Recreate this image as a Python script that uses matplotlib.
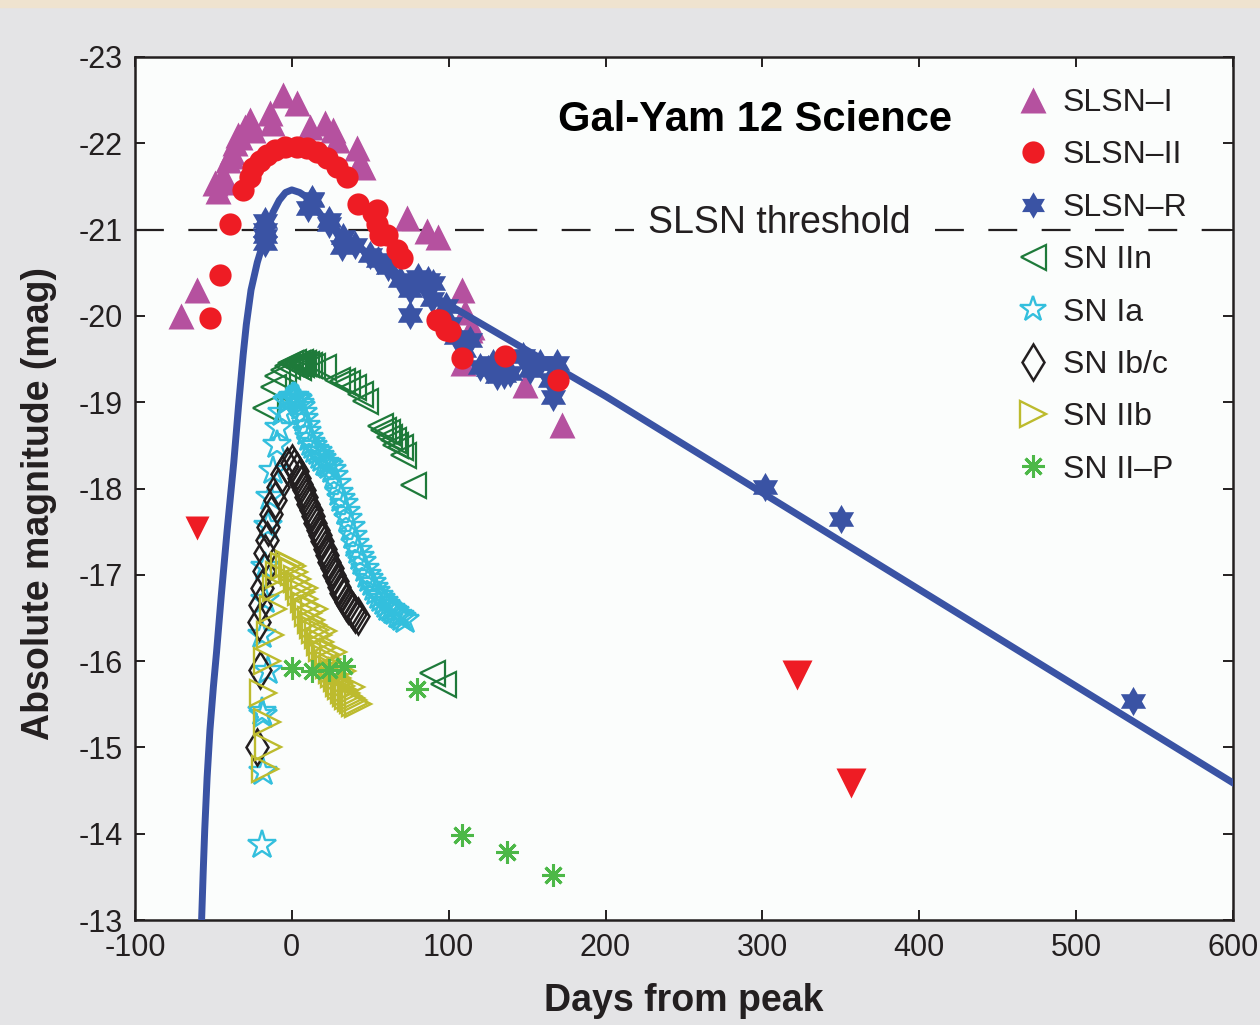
import numpy as np
import matplotlib
matplotlib.use("Agg")
import matplotlib.pyplot as plt

plt.rcParams['font.family'] = ['Liberation Sans', 'DejaVu Sans']
plt.rcParams['axes.unicode_minus'] = False

### data (days from peak, absolute magnitude)
slsn1_day = [-70.7, -60.5, -49, -47, -43.9, -44, -40.7, -39, -38.2, -36.3, -34, -33.1, -29.9,
             -26.7, -24.8, -14, -12.7, -5.7, 3.3, 11.6, 21.1, 26.2, 28.8, 41.5, 43.4, 45.4,
             73.2, 86, 93.4, 108.3, 110.4, 113.6, 114.6, 109.3, 148.6, 172]
slsn1_mag = [-20.0, -20.3, -21.54, -21.45, -21.63, -21.55, -21.81, -21.85, -21.9, -22.0, -22.1,
             -22.07, -22.19, -22.27, -22.15, -22.35, -22.24, -22.56, -22.47, -22.19, -22.24,
             -22.15, -22.04, -21.95, -21.78, -21.73, -21.13, -20.98, -20.92, -20.3, -20.05,
             -19.84, -19.87, -19.45, -19.2, -18.74]

slsn2_day = [-52.2, -45.8, -39.4, -30.9, -26.7, -24.6, -20.3, -16.1, -10.7, -4.4, 3.0, 9.4,
             15.8, 22.2, 28.6, 35, 42.4, 51.9, 54.1, 54.1, 56.2, 60.5, 66.8, 70, 92.5, 94.4,
             98.6, 100.8, 108.3, 136.1, 169.8]
slsn2_mag = [-19.97, -20.47, -21.07, -21.46, -21.61, -21.71, -21.79, -21.87, -21.92, -21.96,
             -21.96, -21.94, -21.90, -21.83, -21.73, -21.61, -21.30, -21.19, -21.23, -21.07,
             -20.94, -20.94, -20.76, -20.67, -19.95, -19.95, -19.84, -19.82, -19.51, -19.53,
             -19.26]

limit_day = [-60.5, 322, 356.5]
limit_mag = [-17.54, -15.84, -14.59]

slslr_day = [-17.1, -17.1, -17.1, -17.1, 10.6, 12.7, 12.7, 23.4, 23.4, 31.8, 32.8, 40, 49.8,
             55, 61.5, 68.9, 75.3, 75.3, 80.6, 87, 89.1, 90.2, 98.6, 100.8, 105, 110, 113.6,
             120, 125, 128, 130.6, 135, 139, 147.6, 151.8, 158, 164.6, 166.7, 168.8,
             301.7, 350.1, 536.3]
slslr_mag = [-21.1, -21.0, -20.93, -20.85, -21.25, -21.36, -21.34, -21.11, -21.07, -20.80,
             -20.92, -20.82, -20.71, -20.65, -20.57, -20.42, -20.30, -20.01, -20.45, -20.42,
             -20.20, -20.38, -20.11, -19.91, -19.75, -19.6, -19.72, -19.41, -19.38, -19.45,
             -19.30, -19.32, -19.34, -19.53, -19.37, -19.45, -19.26, -19.06, -19.45,
             -18.02, -17.65, -15.54]

model_day = [-57.5, -56.5, -55.5, -54, -52.2, -50, -48, -45, -41.3, -37, -34, -31, -29, -26,
             -22, -19, -16, -12, -8, -4, 0, 5, 10, 15, 20, 30, 45, 60, 80, 100, 150, 200,
             300, 400, 500, 600]
model_mag = [-13.0, -13.55, -14.05, -14.65, -15.2, -15.7, -16.1, -16.75, -17.5, -18.3, -18.95,
             -19.55, -19.9, -20.3, -20.62, -20.8, -21.0, -21.2, -21.34, -21.43, -21.46, -21.43,
             -21.37, -21.26, -21.13, -20.97, -20.77, -20.57, -20.33, -20.13, -19.6, -19.07,
             -17.95, -16.83, -15.71, -14.59]

iin_day = [-17.1, -11.8, -9.7, -5.4, -3, -1, 1, 2, 3, 4, 5, 6, 7, 9, 11, 13, 20, 28.6, 32,
           35, 39.2, 43.4, 46.6, 56.2, 58, 60.5, 62, 64.7, 66, 68.9, 71, 77.5, 89.1, 96.5]
iin_mag = [-18.93, -19.18, -19.30, -19.37, -19.42, -19.45, -19.47, -19.43, -19.46, -19.41,
           -19.47, -19.44, -19.45, -19.44, -19.43, -19.42, -19.41, -19.26, -19.24, -19.22,
           -19.18, -19.10, -19.01, -18.72, -18.68, -18.66, -18.6, -18.56, -18.5, -18.48,
           -18.39, -18.04, -15.86, -15.74]

ia_day = [-19.2, -18.2, -18.2, -19.2, -15, -19.2, -17.1, -17.1, -15, -13.9, -11.8, -9.7, -8,
          -6, -3, -1.5, 0, 1, 2, 3, 4, 5, 6, 7, 8, 9, 10, 11, 12, 13.5, 15, 16.5, 18, 19.5,
          21, 22.5, 24, 25.5, 27, 28.5, 30, 31.5, 33, 34.5, 36, 37.5, 39, 40.5, 42, 43.5,
          45, 46.5, 48, 49.5, 51, 52.5, 54, 55.5, 57, 58.5, 60, 61.5, 63, 64.5, 66, 67.5,
          69, 70.5, 72]
ia_mag = [-13.87, -14.72, -15.38, -15.41, -15.88, -16.30, -16.71, -17.09, -17.56, -17.9,
          -18.2, -18.5, -18.7, -18.88, -19.0, -19.03, -19.05, -19.06, -19.06, -19.04, -19.02,
          -18.98, -18.95, -18.88, -18.8, -18.72, -18.65, -18.58, -18.53, -18.49, -18.45,
          -18.42, -18.38, -18.34, -18.3, -18.28, -18.26, -18.21, -18.15, -18.05, -17.95,
          -17.88, -17.82, -17.73, -17.65, -17.55, -17.45, -17.36, -17.28, -17.21, -17.15,
          -17.07, -17.0, -16.95, -16.9, -16.85, -16.8, -16.76, -16.72, -16.68, -16.65,
          -16.62, -16.6, -16.58, -16.57, -16.54, -16.52, -16.5, -16.48]

ibc_day = [-22.5, -20.3, -21, -20, -19, -18, -17, -16, -15, -13, -11, -9, -6, -3, 0, 1.5, 3,
           4.5, 6, 7.5, 9, 10.5, 12, 13.5, 15, 16.5, 18, 19.5, 21, 22.5, 24, 25.5, 27, 28.5,
           30, 31.5, 33, 34.5, 36, 37.5, 39, 40.5, 42]
ibc_mag = [-15.01, -15.9, -16.45, -16.65, -16.85, -17.05, -17.25, -17.4, -17.55, -17.7,
           -17.87, -18.02, -18.17, -18.26, -18.3, -18.25, -18.2, -18.12, -18.05, -17.98,
           -17.9, -17.82, -17.75, -17.68, -17.6, -17.52, -17.46, -17.39, -17.3, -17.23,
           -17.15, -17.08, -17.0, -16.93, -16.86, -16.79, -16.74, -16.69, -16.65, -16.62,
           -16.58, -16.55, -16.52]

iib_day = [-17.1, -15, -16.1, -18.2, -16.1, -14, -12, -10, -8, -5, -2, 0, 1.5, 3, 4.5, 6,
           7.5, 9, 10.5, 12, 13.5, 15, 16.5, 18, 19.5, 21, 22.5, 24, 25.5, 27, 28.5, 30,
           31.5, 33, 34.5, 36, 37.5, 39, 40.5, 42, 8, 14, 20, 26, 32, 38]
iib_mag = [-14.75, -15.0, -15.3, -15.63, -16.0, -16.3, -16.6, -16.85, -17.0, -17.1, -17.12,
           -17.1, -17.03, -16.95, -16.87, -16.8, -16.72, -16.64, -16.56, -16.48, -16.42,
           -16.36, -16.3, -16.22, -16.15, -16.08, -16.02, -15.95, -15.9, -15.85, -15.8,
           -15.75, -15.71, -15.67, -15.63, -15.6, -15.57, -15.55, -15.52, -15.5, -16.85,
           -16.6, -16.35, -16.1, -15.88, -15.7]

iip_day = [0, 12.7, 23.4, 33, 79.6, 108.3, 137, 166.7]
iip_mag = [-15.92, -15.88, -15.9, -15.94, -15.68, -13.98, -13.79, -13.52]

xticks = [-100, 0, 100, 200, 300, 400, 500, 600]
yticks = [-23, -22, -21, -20, -19, -18, -17, -16, -15, -14, -13]

txt = '#231f20'
c_s1 = '#b5519f'
c_s2 = '#ee1c24'
c_sr = '#3a53a4'
c_iin = '#1e7a3a'
c_ia = '#33bfdd'
c_ibc = '#231f20'
c_iib = '#bdbb2e'
c_iip = '#4db848'

# six-pointed star (two overlapping triangles)
ang = np.deg2rad(90 + 30 * np.arange(12))
rad = np.where(np.arange(12) % 2 == 0, 1.0, 0.577)
hexagram = list(zip(rad * np.cos(ang), rad * np.sin(ang)))

fig = plt.figure(figsize=(12.6, 10.25), dpi=100, facecolor='#e4e4e6')
ax = fig.add_axes([0.1071, 0.1024, 0.8714, 0.842])
ax.set_facecolor('#fbfdfc')
fig.patches.append(plt.Rectangle((0, 0.993), 1, 0.007, transform=fig.transFigure,
                                 color='#efe3cf', zorder=0))

ax.axhline(-21, color=txt, lw=1.6, dashes=(13, 11), zorder=1)
ax.text(311, -21.08, 'SLSN threshold', fontsize=27, color=txt, ha='center', va='center',
        zorder=2, bbox=dict(facecolor='#fbfdfc', edgecolor='none', pad=10))

ax.plot(slsn1_day, slsn1_mag, '^', color=c_s1, ms=19, mec='none', label='SLSN\u2013I', zorder=3)
ax.plot(slslr_day, slslr_mag, marker=hexagram, ls='none', color=c_sr, ms=21, mec='none',
        label='SLSN\u2013R', zorder=4)
ax.plot(model_day, model_mag, '-', color=c_sr, lw=5, zorder=5)
ax.plot(slsn2_day, slsn2_mag, 'o', color=c_s2, ms=16, mec='none', label='SLSN\u2013II', zorder=6)
ax.plot(limit_day[:1], limit_mag[:1], 'v', color=c_s2, ms=17, mec='none', zorder=6)
ax.plot(limit_day[1:], limit_mag[1:], 'v', color=c_s2, ms=22, mec='none', zorder=6)

ax.plot(iin_day, iin_mag, '<', mfc='none', mec=c_iin, ms=18, mew=1.6, ls='none',
        label='SN IIn', zorder=3)
ax.plot(ia_day, ia_mag, '*', mfc='none', mec=c_ia, ms=21, mew=1.7, ls='none',
        label='SN Ia', zorder=3)
ax.plot(ibc_day, ibc_mag, 'd', mfc='none', mec=c_ibc, ms=18, mew=1.8, ls='none',
        label='SN Ib/c', zorder=3)
ax.plot(iib_day, iib_mag, '>', mfc='none', mec=c_iib, ms=19, mew=1.7, ls='none',
        label='SN IIb', zorder=3)
ax.plot(iip_day, iip_mag, marker=(8, 2, 0), ls='none', color=c_iip, mec=c_iip, ms=16, mew=2.2,
        label='SN II\u2013P', zorder=3)

ax.set_xlim(-100, 600)
ax.set_ylim(-13, -23)
ax.set_xticks(xticks)
ax.set_yticks(yticks)
ax.set_xticklabels([str(v) for v in xticks])
ax.set_yticklabels([str(v) for v in yticks])
ax.tick_params(direction='in', length=7, width=1.4, labelsize=22, colors=txt,
               top=True, right=True, pad=9)
for s in ax.spines.values():
    s.set_linewidth(1.8)
    s.set_color(txt)

ax.set_xlabel('Days from peak', fontsize=27, fontweight='bold', color=txt, labelpad=15)
ax.set_ylabel('Absolute magnitude (mag)', fontsize=27, fontweight='bold', color=txt)
ax.yaxis.set_label_coords(-0.071, 0.483)
ax.text(295, -22.27, 'Gal-Yam 12 Science', fontsize=30, fontweight='bold', color='black',
        ha='center', va='center')

h, l = ax.get_legend_handles_labels()
order = ['SLSN\u2013I', 'SLSN\u2013II', 'SLSN\u2013R', 'SN IIn', 'SN Ia', 'SN Ib/c', 'SN IIb', 'SN II\u2013P']
hd = dict(zip(l, h))
leg = ax.legend([hd[k] for k in order], order, loc='upper left', bbox_to_anchor=(0.803, 0.964),
                frameon=False, fontsize=23, labelspacing=0.70, handlelength=1.0,
                handletextpad=0.45, borderaxespad=0, borderpad=0, labelcolor=txt)
for lh in leg.legend_handles:
    lh.set_markersize(min(lh.get_markersize(), 19))

fig.savefig('out.png', dpi=100, facecolor=fig.get_facecolor())
